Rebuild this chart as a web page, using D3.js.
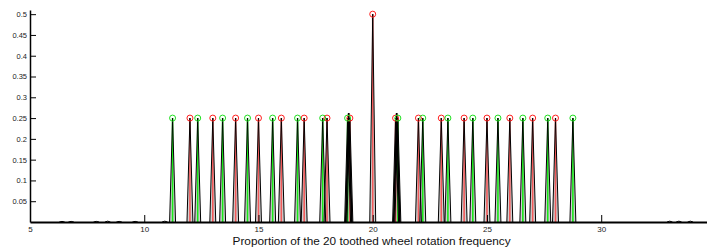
<!DOCTYPE html>
<html>
<head>
<meta charset="utf-8">
<script src="https://cdn.jsdelivr.net/npm/d3@7"></script>
<style>
  body { margin: 0; background: #fff; }
  text { font-family: "Liberation Sans", Arial, sans-serif; }
</style>
</head>
<body>
<div id="vis"></div>
<script>
// Peak data
var redFreq  = [12, 13, 14, 15, 16, 17, 18, 19, 20, 21, 22, 23, 24, 25, 26, 27, 28];
var redAmp   = [0.25, 0.25, 0.25, 0.25, 0.25, 0.25, 0.25, 0.25, 0.5, 0.25, 0.25, 0.25, 0.25, 0.25, 0.25, 0.25, 0.25];
var greenFreq = [11.24, 12.34, 13.43, 14.52, 15.62, 16.71, 17.81, 18.9, 21.1, 22.19, 23.29, 24.38, 25.48, 26.57, 27.66, 28.76];
var greenAmp  = [0.25, 0.25, 0.25, 0.25, 0.25, 0.25, 0.25, 0.25, 0.25, 0.25, 0.25, 0.25, 0.25, 0.25, 0.25, 0.25];
// extra black peaks poking above the markers near 19 and 21
var blackFreq = [18.95, 21.05];
var blackAmp  = [0.262, 0.262];
// small bumps on the baseline
var noiseFreq = [6.4, 6.8, 7.9, 8.4, 8.9, 9.6, 10.9, 33.0, 33.4, 33.9];
var noiseAmp  = [0.0015, 0.0015, 0.0015, 0.002, 0.0015, 0.0015, 0.002, 0.002, 0.002, 0.002];

var xTicks = [5, 10, 15, 20, 25, 30];
var yTicks = [0.05, 0.1, 0.15, 0.2, 0.25, 0.3, 0.35, 0.4, 0.45, 0.5];
var xLabel = "Proportion of the 20 toothed wheel rotation frequency";

var margin = {top: 10, right: 0, bottom: 28, left: 30},
    width = 707 - margin.left - margin.right,
    height = 250 - margin.top - margin.bottom;

var x = d3.scaleLinear().domain([5, 34.63]).range([0, width]);
var y = d3.scaleLinear().domain([0, 0.51]).range([height, 0]);

var svg = d3.select("#vis").append("svg")
    .attr("width", 707).attr("height", 250);
var g = svg.append("g").attr("transform", "translate(" + margin.left + "," + margin.top + ")");

var halfW = 0.13; // half base width of each peak, in frequency units

var peaks = [];
redFreq.forEach(function(f, i) { peaks.push({f: f, a: redAmp[i], c: "red"}); });
greenFreq.forEach(function(f, i) { peaks.push({f: f, a: greenAmp[i], c: "green"}); });

// grey shading of each peak
g.selectAll(".shade").data(peaks).enter().append("path")
  .attr("class", "shade")
  .attr("d", function(d) {
    return "M" + x(d.f - halfW) + "," + y(0) + "L" + x(d.f) + "," + y(d.a) + "L" + x(d.f + halfW) + "," + y(0) + "Z";
  })
  .attr("fill", "#c0c0c0").attr("fill-opacity", 0.75);

// coloured stems
g.selectAll(".stem").data(peaks).enter().append("line")
  .attr("class", "stem")
  .attr("x1", function(d) { return x(d.f); }).attr("x2", function(d) { return x(d.f); })
  .attr("y1", y(0)).attr("y2", function(d) { return y(d.a); })
  .attr("stroke", function(d) { return d.c == "red" ? "#f25a5a" : "#18e818"; })
  .attr("stroke-width", 1.6);

// black spectrum outline
var allPts = peaks.map(function(d) { return {f: d.f, a: d.a}; })
  .concat(blackFreq.map(function(f, i) { return {f: f, a: blackAmp[i]}; }))
  .concat(noiseFreq.map(function(f, i) { return {f: f, a: noiseAmp[i]}; }))
  .sort(function(a, b) { return a.f - b.f; });

var line = d3.line().x(function(d) { return x(d[0]); }).y(function(d) { return y(d[1]); });
allPts.forEach(function(d) {
  var w = d.a > 0.01 ? halfW : 0.12;
  g.append("path")
    .attr("d", line([[d.f - w, 0], [d.f, d.a], [d.f + w, 0]]))
    .attr("fill", "none").attr("stroke", "#000").attr("stroke-width", d.a > 0.255 && d.a < 0.3 ? 1.8 : 1);
});

// markers
g.selectAll(".mark").data(peaks).enter().append("circle")
  .attr("class", "mark")
  .attr("cx", function(d) { return x(d.f); })
  .attr("cy", function(d) { return y(d.a); })
  .attr("r", 3)
  .attr("fill", "none")
  .attr("stroke", function(d) { return d.c == "red" ? "#ff2020" : "#20e020"; })
  .attr("stroke-width", 1);

// axes (MATLAB-like, ticks pointing inward)
var xAxis = d3.axisBottom(x).tickValues(xTicks).tickSizeInner(-7).tickSizeOuter(0).tickPadding(4);
var gx = g.append("g").attr("transform", "translate(0," + height + ")").call(xAxis);
gx.select(".domain").attr("stroke-width", 2);
gx.selectAll("text").attr("font-size", 8).attr("fill", "#222").attr("font-family", "Liberation Sans, Arial, sans-serif");
gx.selectAll(".tick").filter(function(d) { return d == 5; }).select("line").remove();

var yAxis = d3.axisLeft(y).tickValues(yTicks).tickFormat(d3.format("~g"))
    .tickSizeInner(-6).tickSizeOuter(0).tickPadding(3);
var gy = g.append("g").call(yAxis);
gy.select(".domain").attr("stroke-width", 1.5);
gy.selectAll("text").attr("font-size", 7.5).attr("fill", "#222").attr("font-family", "Liberation Sans, Arial, sans-serif");

g.append("text")
  .attr("x", x(19.95)).attr("y", height + 23)
  .attr("text-anchor", "middle")
  .attr("font-size", 11.8).attr("fill", "#111")
  .text(xLabel);
</script>
</body>
</html>
